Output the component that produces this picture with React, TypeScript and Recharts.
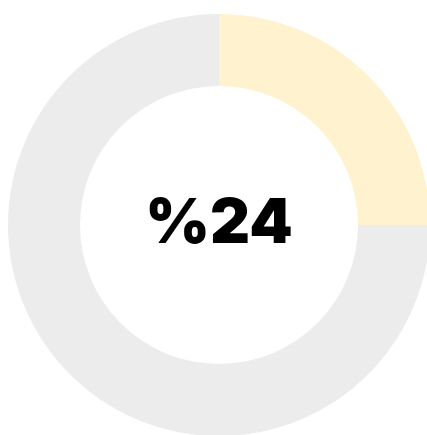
import { PieChart, Pie, Cell } from "recharts";

const slices = [
  { name: "done", value: 25, color: "#FFF2CF" },
  { name: "rest", value: 75, color: "#ECECEC" },
];
const centerLabel = "%24";

export default function App() {
  return (
    <div style={{ position: "fixed", top: 0, left: 0, width: 427, height: 435, overflow: "hidden", background: "#fff" }}>
      <PieChart width={427} height={435} margin={{ top: 0, right: 0, bottom: 0, left: 0 }}>
        <Pie
          data={slices}
          dataKey="value"
          cx={219}
          cy={225}
          innerRadius={139}
          outerRadius={211}
          startAngle={90}
          endAngle={-270}
          stroke="none"
          isAnimationActive={false}
        >
          {slices.map((s, i) => (
            <Cell key={`cell-${i}`} fill={s.color} />
          ))}
        </Pie>
      </PieChart>
      <div
        style={{
          position: "absolute",
          left: 219,
          top: 221,
          transform: "translate(-50%, -50%)",
          fontFamily: "Inter, 'Open Sans', sans-serif",
          fontWeight: 900,
          fontSize: 62,
          lineHeight: 1,
          color: "#000",
          whiteSpace: "nowrap",
        }}
      >
        {centerLabel}
      </div>
    </div>
  );
}
